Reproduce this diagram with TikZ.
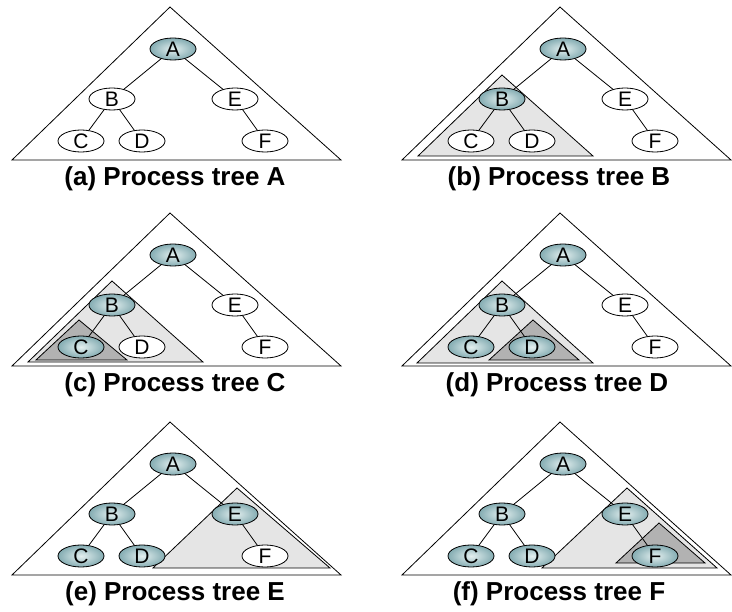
\documentclass[tikz,border=0pt]{standalone}
\usepackage{fontspec}
\setmainfont{Liberation Sans}
\usetikzlibrary{shapes.geometric}
\definecolor{tealdark}{RGB}{132,172,178}
\definecolor{teallight}{RGB}{228,240,240}

\begin{document}
\begin{tikzpicture}[x=1pt, y=-1pt, line join=miter,
    outline/.style={draw=black, line width=0.8pt},
    subtree/.style={draw=black, line width=0.8pt, fill=gray!20},
    subsub/.style={draw=black, line width=0.8pt, fill=gray!60},
    plainnode/.style={draw, ellipse, line width=0.8pt, fill=white,
      minimum width=46pt, minimum height=22pt, inner sep=0pt,
      font=\fontsize{21}{21}\selectfont},
    donenode/.style={plainnode, inner color=teallight, outer color=tealdark},
    edge/.style={line width=0.8pt},
    caption/.style={font=\fontsize{26}{26}\selectfont\bfseries}]
  \useasboundingbox (0,0) rectangle (732,612);
  % Teilbaeume (grau hinterlegt)
  % (b)
  \filldraw[subtree] (502,75) -- (418,156) -- (593,156) -- cycle;
  % (c)
  \filldraw[subtree] (112,281) -- (28,362) -- (203,362) -- cycle;
  \filldraw[subsub] (79,320) -- (36,360) -- (127,360) -- cycle;
  % (d)
  \filldraw[subtree] (502,281) -- (417,363) -- (593,363) -- cycle;
  \filldraw[subsub] (533,320) -- (489,360) -- (579,360) -- cycle;
  % (e)
  \filldraw[subtree] (237,488) -- (153,568) -- (330,568) -- cycle;
  % (f)
  \filldraw[subtree] (627,488) -- (542,568) -- (717,568) -- cycle;
  \filldraw[subsub] (659,523) -- (616,563) -- (705,563) -- cycle;
  % Prozessbaeume
  \foreach \p/\L/\dx/\dy/\cx/\n in {a/A/0/0/175/1, b/B/390/0/169/2,
      c/C/0/206/175/3, d/D/390/206/167/4, e/E/0/415/175/5, f/F/390/415/169/6} {
    \begin{scope}[shift={(\dx,\dy)}]
      \draw[outline] (170,7) -- (12,160) -- (341,160) -- cycle;
      \foreach \nm/\k/\x/\y in {A/1/173/49, B/2/112/99, C/3/81/141,
          D/4/142/141, E/5/235/99, F/6/265/141} {
        \ifnum\k>\n
          \node[plainnode] (\p\nm) at (\x,\y) {\nm};
        \else
          \node[donenode] (\p\nm) at (\x,\y) {\nm};
        \fi
      }
      \draw[edge] (\p A) -- (\p B);
      \draw[edge] (\p A) -- (\p E);
      \draw[edge] (\p B) -- (\p C);
      \draw[edge] (\p B) -- (\p D);
      \draw[edge] (\p E) -- (\p F);
      \node[caption] (cap\p) at (\cx,179) {(\p) Process tree \L};
    \end{scope}
  }
\end{tikzpicture}
\end{document}
